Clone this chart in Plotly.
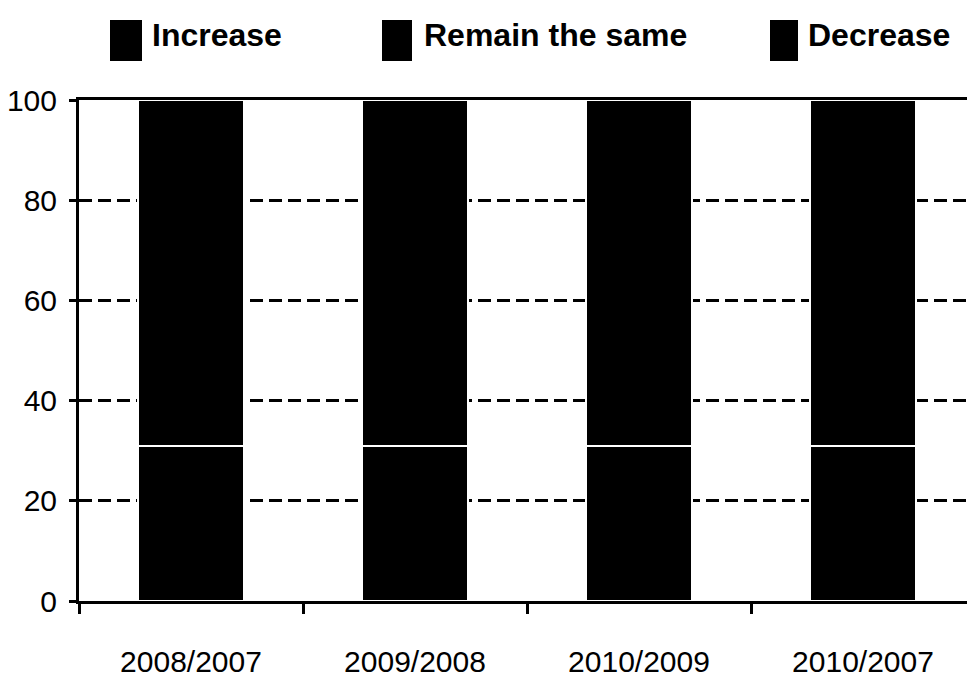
import plotly.graph_objects as go

# Survey periods and share of answers (%) per category
periods = ["2008/2007", "2009/2008", "2010/2009", "2010/2007"]
series_names = ["Increase", "Remain the same", "Decrease"]
increase = [31, 31, 31, 31]
remain_same = [0, 0, 0, 0]
decrease = [69, 69, 69, 69]
y_ticks = [0, 20, 40, 60, 80, 100]

FONT = "Liberation Sans, Arial, sans-serif"

W, H = 967, 679
L, T, B, R = 79, 100, 78, 0
PW, PH = W - L - R, H - T - B


def px_x(px):
    return (px - L) / PW


def px_y(py):
    return (H - B - py) / PH


fig = go.Figure()
for name, vals in zip(series_names, [increase, remain_same, decrease]):
    fig.add_trace(go.Bar(
        x=periods, y=vals, name=name, width=0.47,
        marker=dict(color="black", line=dict(color="white", width=2)),
        showlegend=False,
    ))

# Legend row drawn across the top: black swatch + label per series
swatch_left = [110, 382, 770]
swatch_w = [32, 30, 28]
label_left = [150, 422, 806]
shapes = []
annotations = []
for name, sx, sw, lx in zip(series_names, swatch_left, swatch_w, label_left):
    shapes.append(dict(type="rect", xref="paper", yref="paper",
                       x0=px_x(sx), x1=px_x(sx + sw), y0=px_y(61), y1=px_y(20),
                       fillcolor="black", line=dict(width=0)))
    annotations.append(dict(text=name, xref="paper", yref="paper",
                            x=px_x(lx), y=px_y(35), xanchor="left", yanchor="middle",
                            showarrow=False,
                            font=dict(family=FONT, size=32, color="black", weight="bold")))

fig.update_layout(
    barmode="stack",
    width=W, height=H,
    margin=dict(l=L, r=R, t=T, b=B, pad=0),
    paper_bgcolor="white", plot_bgcolor="white",
    shapes=shapes, annotations=annotations,
    font=dict(family=FONT, size=30, color="black"),
    xaxis=dict(
        type="category", range=[-0.5, 3.5 - 8 / 224],
        showline=True, linecolor="black", linewidth=3, mirror=True,
        ticks="outside", tickson="boundaries", ticklen=10, tickwidth=3, tickcolor="black",
        ticklabelstandoff=32,
        tickfont=dict(family=FONT, size=30, color="black"),
        showgrid=False, zeroline=False,
    ),
    yaxis=dict(
        range=[0, 100], tickvals=y_ticks,
        showline=True, linecolor="black", linewidth=3,
        ticks="outside", ticklen=7, tickwidth=3, tickcolor="black",
        ticklabelstandoff=6,
        tickfont=dict(family=FONT, size=30, color="black"),
        showgrid=True, gridcolor="black", gridwidth=3, griddash="13px,6px",
        zeroline=False,
    ),
)

fig.write_html("out.html")
